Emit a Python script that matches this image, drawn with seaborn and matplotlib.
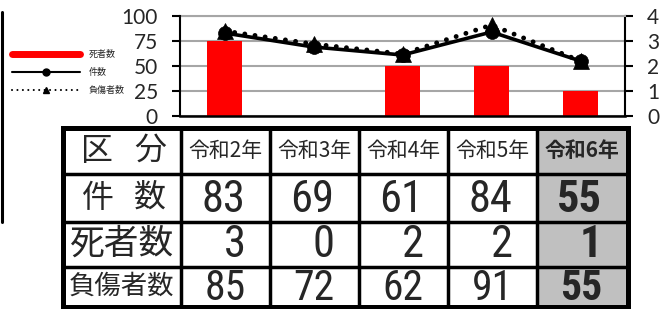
import numpy as np
import matplotlib
matplotlib.use("Agg")
import matplotlib.pyplot as plt
import seaborn as sns
from matplotlib import font_manager as fm
from matplotlib.lines import Line2D
from matplotlib.patches import Rectangle

# ---------------- data ----------------
years = ["令和2年", "令和3年", "令和4年", "令和5年", "令和6年"]
accidents = [83, 69, 61, 84, 55]      # 件数
deaths = [3, 0, 2, 2, 1]              # 死者数
injured = [85, 72, 62, 91, 55]        # 負傷者数
left_ticks = [0, 25, 50, 75, 100]
right_ticks = [0, 1, 2, 3, 4]
header_label = "区分"
row_labels = ["件数", "死者数", "負傷者数"]
legend_labels = ["死者数", "件数", "負傷者数"]

sns.set_style("white")
JP = "Noto Sans CJK JP"
plt.rcParams["font.family"] = [JP, "DejaVu Sans"]

names = {f.name for f in fm.fontManager.ttflist}


def pick(cands):
    for c in cands:
        if c in names:
            return c
    return "DejaVu Sans"


NUM = pick(["Liberation Sans Narrow", "Roboto Condensed", "Liberation Sans"])
TICK = pick(["Lato", "Open Sans", "DejaVu Sans"])

W, H = 670, 309
fig = plt.figure(figsize=(W / 100, H / 100), dpi=100)


def fx(px):
    return px / W


def fy(py):
    return 1 - py / H


# ---------------- chart ----------------
ax = fig.add_axes([fx(180), fy(116), 445 / W, 100 / H])
ax2 = ax.twinx()
ax.set_zorder(3)
ax2.set_zorder(2)
ax.patch.set_visible(False)
ax2.patch.set_facecolor("white")

idx = np.arange(len(years))

sns.barplot(x=idx, y=deaths, ax=ax2, native_scale=True, width=0.4,
            color="#ff0000", saturation=1, errorbar=None, linewidth=0)

sns.lineplot(x=idx, y=injured, ax=ax, color="black", lw=3.5,
             linestyle=(0, (0.01, 2.1)), dash_capstyle="round",
             marker="^", markersize=11, markeredgecolor="black",
             markerfacecolor="black", markeredgewidth=0.5)
sns.lineplot(x=idx, y=accidents, ax=ax, color="black", lw=2.6,
             marker="o", markersize=10, markeredgecolor="black",
             markerfacecolor="black", markeredgewidth=0.5)

ax.set_xlim(-0.5, len(years) - 0.5)
ax.set_ylim(0, 100)
ax2.set_ylim(0, 4)
ax.set_yticks(left_ticks)
ax2.set_yticks(right_ticks)
ax.set_yticklabels([str(t) for t in left_ticks], fontsize=15, family=TICK)
ax2.set_yticklabels([str(t) for t in right_ticks], fontsize=15, family=TICK)
ax.set_xticks([])
ax.set_xticks(idx[:-1] + 0.5, minor=True)
ax.tick_params(axis="x", which="minor", direction="in", length=6, width=1.5,
               color="black", labelbottom=False)
ax.tick_params(axis="y", direction="out", length=6, width=1.5, color="black",
               pad=10, left=True)
ax2.tick_params(axis="y", direction="out", length=6, width=1.5, color="black",
                pad=10, right=True)
ax2.set_xticks([])
for a in (ax, ax2):
    a.set_xlabel("")
    a.set_ylabel("")

ax2.yaxis.grid(True, color="#a6a6a6", lw=1.5)
ax.yaxis.grid(False)
ax.xaxis.grid(False)
ax2.xaxis.grid(False)

for s in ["top", "right"]:
    ax.spines[s].set_visible(False)
ax.spines["left"].set_color("black")
ax.spines["left"].set_linewidth(1.5)
ax.spines["bottom"].set_color("black")
ax.spines["bottom"].set_linewidth(1.8)
for s in ["left", "bottom"]:
    ax2.spines[s].set_visible(False)
ax2.spines["right"].set_color("black")
ax2.spines["right"].set_linewidth(1.5)
ax2.spines["top"].set_color("#a6a6a6")
ax2.spines["top"].set_linewidth(1.5)

# ---------------- legend ----------------
handles = [
    Line2D([], [], color="#ff0000", lw=5),
    Line2D([], [], color="black", lw=1.5, marker="o", ms=5),
    Line2D([], [], color="black", lw=1.5, ls=(0, (0.01, 2.6)),
           dash_capstyle="round", marker="^", ms=5),
]
fig.legend(handles, legend_labels, loc="upper left",
           bbox_to_anchor=(fx(12), fy(50)), frameon=False, fontsize=6.5,
           handlelength=7.5, handletextpad=1.0, labelspacing=1.0,
           borderpad=0, borderaxespad=0)

fig.add_artist(Line2D([fx(2), fx(2)], [fy(12), fy(222)], color="black", lw=2.2))

# ---------------- table ----------------
axt = fig.add_axes([0, 0, 1, 1], zorder=1)
axt.set_xlim(0, W)
axt.set_ylim(H, 0)
axt.axis("off")

xe = [62.5, 181] + [181 + 89 * k for k in range(1, len(years) + 1)]
xe[-1] = 627.5
ye = [128, 173.5, 221.5, 266.5, 306.5]

axt.add_patch(Rectangle((xe[-2], ye[0]), xe[-1] - xe[-2], ye[-1] - ye[0],
                        facecolor="#c0c0c0", edgecolor="none"))
for x in xe[1:-1]:
    axt.plot([x, x], [ye[0], ye[-1]], color="black", lw=2.5,
             solid_capstyle="butt")
for y in ye[1:-1]:
    axt.plot([xe[0], xe[-1]], [y, y], color="black", lw=2.5,
             solid_capstyle="butt")
axt.add_patch(Rectangle((xe[0], ye[0]), xe[-1] - xe[0], ye[-1] - ye[0],
                        facecolor="none", edgecolor="black", lw=3.6,
                        joinstyle="miter"))

# header row
hy = (ye[0] + ye[1]) / 2
for ch, x in zip(header_label, [97.5, 150]):
    axt.text(x, hy, ch, ha="center", va="center", fontsize=23, family=JP)
for i, yr in enumerate(years):
    cx = (xe[i + 1] + xe[i + 2]) / 2
    axt.text(cx, hy, yr, ha="center", va="center", fontsize=15, family=JP,
             weight="bold" if i == len(years) - 1 else "normal")

# row labels
ry = [(ye[1] + ye[2]) / 2, (ye[2] + ye[3]) / 2, (ye[3] + ye[4]) / 2]
for ch, x in zip(row_labels[0], [97.5, 150]):
    axt.text(x, ry[0], ch, ha="center", va="center", fontsize=23, family=JP)
axt.text(122, ry[1], row_labels[1], ha="center", va="center", fontsize=25,
         family=JP)
axt.text(121.5, ry[2], row_labels[2], ha="center", va="center", fontsize=19,
         family=JP)

# numbers
baselines = [212, 257, 300]
sizes = [32, 32, 30]
for vals, by, fs in zip([accidents, deaths, injured], baselines, sizes):
    for i, v in enumerate(vals):
        cx = (xe[i + 1] + xe[i + 2]) / 2
        axt.text(cx + 20, by, str(v), ha="right", va="baseline",
                 fontsize=fs, family=NUM,
                 weight="bold" if i == len(years) - 1 else "normal")

fig.savefig("out.png", dpi=100)
